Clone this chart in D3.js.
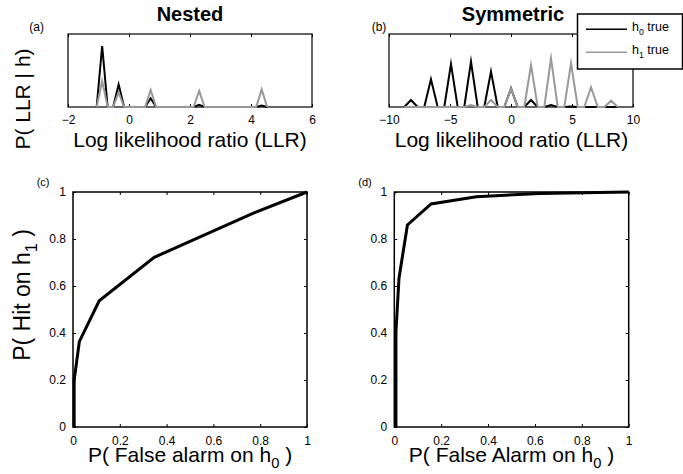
<!DOCTYPE html>
<html lang="en">
<head>
    <meta charset="utf-8">
    <title>Nested vs Symmetric</title>
    <script src="https://d3js.org/d3.v7.min.js"></script>
    <style>
        body { margin: 0; background: #fff; }
        svg { font-family: "Liberation Sans", Arial, Helvetica, sans-serif; }
    </style>
</head>
<body>

<div id="my_dataviz"></div>

<script>

// histogram of LLR, nested case (peaks with their zero neighbours)
var nestedLLR = [-1.06, -0.88, -0.70, -0.52, -0.34, -0.16, 0.53, 0.71, 0.89, 2.12, 2.30, 2.48, 4.17, 4.35, 4.53];
var nestedH0  = [0, 0.836, 0, 0, 0.31, 0, 0, 0.119, 0, 0, 0.03, 0, 0, 0.02, 0];
var nestedH1  = [0, 0.356, 0, 0, 0.20, 0, 0, 0.233, 0, 0, 0.22, 0, 0, 0.242, 0];

// histogram of LLR, symmetric case
var symLLR = [-8.75, -8.2, -7.65, -7.11, -6.56, -6.01, -5.47, -4.92, -4.37, -3.83, -3.28,
              -2.73, -2.19, -1.64, -1.09, -0.55, 0, 0.55, 1.09, 1.64, 2.19, 2.73,
              3.28, 3.83, 4.37, 4.92, 5.47, 6.01, 6.56, 7.11, 7.65, 8.2, 8.75];
var symH0 = [0, 0.096, 0, 0, 0.379, 0, 0, 0.589, 0, 0, 0.621,
             0, 0, 0.484, 0, 0, 0.256, 0, 0, 0.096, 0, 0,
             0.027, 0, 0, 0.006, 0, 0, 0, 0, 0, 0, 0];
var symH1 = [0, 0, 0, 0, 0, 0, 0, 0.004, 0, 0, 0.027,
             0, 0, 0.096, 0, 0, 0.256, 0, 0, 0.575, 0, 0,
             0.667, 0, 0, 0.598, 0, 0, 0.27, 0, 0, 0.087, 0];

// ROC curves
var rocNestedFA  = [0.005, 0.005, 0.027, 0.112, 0.347, 0.759, 1];
var rocNestedHit = [0, 0.2, 0.363, 0.537, 0.722, 0.905, 1];
var rocSymFA  = [0.007, 0.007, 0.02, 0.056, 0.157, 0.35, 0.62, 1];
var rocSymHit = [0, 0.405, 0.633, 0.86, 0.949, 0.98, 0.994, 1];

var ticksA = [-2, 0, 2, 4, 6];
var ticksB = [-10, -5, 0, 5, 10];
var probTicks = [0, 0.2, 0.4, 0.6, 0.8, 1];

var seriesNames = ["h0 true", "h1 true"];
var seriesColors = ["#000000", "#999999"];

var W = 683, H = 474;

var svg = d3.select("#my_dataviz")
  .append("svg")
    .attr("width", W)
    .attr("height", H);

function zip(xs, ys) {
    return xs.map(function(v, i) { return [v, ys[i]]; });
}

// draws a matlab-like box with inward ticks on all four sides
function makePanel(box, xDomain, yDomain, xTicks, yTicks, tickFont, padX, padY, strokeW) {
    var x = d3.scaleLinear().domain(xDomain).range([box.x0, box.x1]);
    var y = d3.scaleLinear().domain(yDomain).range([box.y1, box.y0]);
    var g = svg.append("g");
    var fmt = d3.format("~g");

    g.append("g")
        .attr("transform", "translate(0," + box.y1 + ")")
        .call(d3.axisBottom(x).tickValues(xTicks).tickFormat(fmt)
            .tickSizeInner(-3).tickSizeOuter(0).tickPadding(padX));
    g.append("g")
        .attr("transform", "translate(0," + box.y0 + ")")
        .call(d3.axisTop(x).tickValues(xTicks).tickFormat("")
            .tickSizeInner(-3).tickSizeOuter(0));
    if (yTicks.length) {
        g.append("g")
            .attr("transform", "translate(" + box.x0 + ",0)")
            .call(d3.axisLeft(y).tickValues(yTicks).tickFormat(fmt)
                .tickSizeInner(-3).tickSizeOuter(0).tickPadding(padY));
        g.append("g")
            .attr("transform", "translate(" + box.x1 + ",0)")
            .call(d3.axisRight(y).tickValues(yTicks).tickFormat("")
                .tickSizeInner(-3).tickSizeOuter(0));
    }
    g.selectAll(".domain").remove();
    g.selectAll(".tick line").attr("stroke", "#000").attr("stroke-width", 1);
    g.selectAll(".tick text")
        .attr("fill", "#000")
        .style("font-size", tickFont + "px")
        .style("font-family", "'Liberation Sans', Arial, sans-serif");

    svg.append("rect")
        .attr("x", box.x0)
        .attr("y", box.y0)
        .attr("width", box.x1 - box.x0)
        .attr("height", box.y1 - box.y0)
        .attr("fill", "none")
        .attr("stroke", "#000")
        .attr("stroke-width", strokeW);

    return {x: x, y: y, g: g};
}

function drawLine(p, pts, color, width) {
    var line = d3.line()
        .x(function(d) { return p.x(d[0]); })
        .y(function(d) { return p.y(d[1]); });
    svg.append("path")
        .datum(pts)
        .attr("d", line)
        .attr("fill", "none")
        .attr("stroke", color)
        .attr("stroke-width", width)
        .attr("stroke-linejoin", "miter")
        .attr("stroke-miterlimit", 10);
}

function label(x, y, txt, size, opts) {
    opts = opts || {};
    var t = svg.append("text")
        .attr("x", x)
        .attr("y", y)
        .attr("text-anchor", opts.anchor || "start")
        .style("font-size", size + "px")
        .style("font-weight", opts.bold ? "bold" : "normal")
        .text(txt);
    if (opts.rotate) t.attr("transform", "rotate(-90," + x + "," + y + ")");
    return t;
}

// text with a subscript digit: before + sub + after
function subLabel(x, y, before, sub, after, size, opts) {
    var t = label(x, y, "", size, opts);
    var drop = Math.round(size * 0.3);
    t.append("tspan").text(before);
    t.append("tspan").attr("dy", drop).style("font-size", (size * 0.7) + "px").text(sub);
    t.append("tspan").attr("dy", -drop).text(after);
    return t;
}

// ---- panels
var pA = makePanel({x0: 68, x1: 312, y0: 34, y1: 107}, [-2, 6], [0, 1], ticksA, [], 12, 8, 0, 1.2);
var pB = makePanel({x0: 389, x1: 633, y0: 34, y1: 107}, [-10, 10], [0, 1], ticksB, [], 12, 8, 0, 1.2);
var pC = makePanel({x0: 73, x1: 307, y0: 192, y1: 427}, [0, 1], [0, 1], probTicks, probTicks, 12, 9, 7, 1.5);
var pD = makePanel({x0: 394.3, x1: 628.7, y0: 192, y1: 427}, [0, 1], [0, 1], probTicks, probTicks, 12, 9, 7, 1.5);

drawLine(pA, zip(nestedLLR, nestedH0), seriesColors[0], 2);
drawLine(pA, zip(nestedLLR, nestedH1), seriesColors[1], 2);
drawLine(pB, zip(symLLR, symH0), seriesColors[0], 2);
drawLine(pB, zip(symLLR, symH1), seriesColors[1], 2);

drawLine(pC, zip(rocNestedFA, rocNestedHit), "#000", 3);
drawLine(pD, zip(rocSymFA, rocSymHit), "#000", 3);

// ---- titles and labels
label(190, 20.5, "Nested", 20, {anchor: "middle", bold: true});
label(513, 20.5, "Symmetric", 20, {anchor: "middle", bold: true});

label(29.3, 30.5, "(a)", 12);
label(371.7, 30.5, "(b)", 12);
label(36.7, 186, "(c)", 11);
label(358.3, 186, "(d)", 11);

label(190, 146.5, "Log likelihood ratio (LLR)", 21, {anchor: "middle"});
label(511.5, 146.5, "Log likelihood ratio (LLR)", 21, {anchor: "middle"});
label(30, 99, "P( LLR | h)", 21, {anchor: "middle", rotate: true});

subLabel(190, 462, "P( False alarm on h", "0", " )", 21, {anchor: "middle"});
subLabel(511.5, 462, "P( False Alarm on h", "0", " )", 21, {anchor: "middle"});
subLabel(30, 295, "P( Hit on h", "1", " )", 23, {anchor: "middle", rotate: true});

// ---- legend
var legend = svg.append("g");
legend.append("rect")
    .attr("x", 577.5)
    .attr("y", 14)
    .attr("width", 105)
    .attr("height", 55)
    .attr("fill", "#fff")
    .attr("stroke", "#000")
    .attr("stroke-width", 1.5);

seriesNames.forEach(function(name, i) {
    var ly = 29.3 + i * 23;
    legend.append("line")
        .attr("x1", 586).attr("x2", 627)
        .attr("y1", ly).attr("y2", ly)
        .attr("stroke", seriesColors[i])
        .attr("stroke-width", 1.5);
    var parts = name.split(" ");
    subLabel(632, ly + 2, parts[0].charAt(0), parts[0].charAt(1), " " + parts[1], 12.5);
});

</script>
</body>
</html>
